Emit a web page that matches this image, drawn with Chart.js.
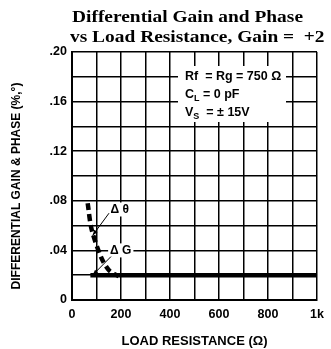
<!DOCTYPE html>
<html>
<head>
<meta charset="utf-8">
<script src="https://cdn.jsdelivr.net/npm/chart.js@4.4.0/dist/chart.umd.min.js"></script>
<style>
	html, body { margin: 0; padding: 0; background: #fff; }
	#wrap { width: 331px; height: 349px; position: relative; }
</style>
</head>
<body>
<div id="wrap"><canvas id="myChart"></canvas></div>
<script>
// load resistance (ohm) and differential gain / phase
const gainR = [75, 1000]
const gainVals = [0.02, 0.02]
const phaseR = [64, 80, 120, 151, 191]
const phaseVals = [0.078, 0.057, 0.034, 0.024, 0.019]

const xTicks = [0, 200, 400, 600, 800, 1000]
const xTickLabels = ['0', '200', '400', '600', '800', '1k']
const yTickLabels = { '0': '0', '0.04': '.04', '0.08': '.08', '0.12': '.12', '0.16': '.16', '0.2': '.20' }

const titleLines = ['Differential Gain and Phase', 'vs Load Resistance, Gain =  +2']
const noteLines = ['Rf  = Rg = 750 Ω', 'C_L = 0 pF', 'V_S  = ± 15V']

// label text position, arrow tail, arrow tip (data units)
const labelTheta = { text: 'Δ θ', at: [195, 0.073], from: [151, 0.070], to: [84, 0.052] }
const labelG = { text: 'Δ G', at: [199, 0.040], from: [159, 0.035], to: [84, 0.020] }

function pts(xs, ys) {
	return xs.map((x, i) => ({ x: x, y: ys[i] }))
}

const sans = '"Liberation Sans", Arial, sans-serif'
const serif = '"Liberation Serif", "DejaVu Serif", serif'

const drawExtras = {
	id: 'drawExtras',
	afterDraw(chart) {
		const c = chart.ctx
		const xs = chart.scales.x
		const ys = chart.scales.y
		c.save()

		// title, stretched so the first line spans like the original
		c.fillStyle = '#000'
		c.font = 'bold 17.5px ' + serif
		c.textBaseline = 'alphabetic'
		c.textAlign = 'left'
		const k = 231 / c.measureText(titleLines[0]).width
		c.save()
		c.scale(k, 1)
		c.fillText(titleLines[0], 72 / k, 22)
		c.fillText(titleLines[1], 70 / k, 42)
		c.restore()

		// note box
		const nf = 'bold 12.5px ' + sans
		const nx = 185
		const ny = [80, 98, 116]
		c.fillStyle = '#fff'
		c.fillRect(178, 66, 108, 56)
		c.fillStyle = '#000'
		noteLines.forEach((line, i) => {
			const m = line.match(/^(\w)_(\w)(.*)$/)
			c.font = nf
			if (m) {
				c.fillText(m[1], nx, ny[i])
				let w = c.measureText(m[1]).width
				c.font = 'bold 9px ' + sans
				c.fillText(m[2], nx + w, ny[i] + 3)
				w += c.measureText(m[2]).width
				c.font = nf
				c.fillText(m[3], nx + w, ny[i])
			} else {
				c.fillText(line, nx, ny[i])
			}
		})

		// delta labels and arrows
		;[labelTheta, labelG].forEach(l => {
			const tx = xs.getPixelForValue(l.at[0])
			const ty = ys.getPixelForValue(l.at[1])
			c.font = 'bold 12px ' + sans
			c.textAlign = 'center'
			c.textBaseline = 'middle'
			const w = c.measureText(l.text).width
			c.fillStyle = '#fff'
			c.fillRect(tx - w / 2 - 2, ty - 7, w + 4, 14)
			c.fillStyle = '#000'
			c.fillText(l.text, tx, ty)

			const x1 = xs.getPixelForValue(l.from[0])
			const y1 = ys.getPixelForValue(l.from[1])
			const x2 = xs.getPixelForValue(l.to[0])
			const y2 = ys.getPixelForValue(l.to[1])
			c.strokeStyle = '#000'
			c.lineWidth = 1
			c.beginPath()
			c.moveTo(x1, y1)
			c.lineTo(x2, y2)
			c.stroke()
			const a = Math.atan2(y2 - y1, x2 - x1)
			c.beginPath()
			c.moveTo(x2, y2)
			c.lineTo(x2 - 6 * Math.cos(a - 0.35), y2 - 6 * Math.sin(a - 0.35))
			c.lineTo(x2 - 6 * Math.cos(a + 0.35), y2 - 6 * Math.sin(a + 0.35))
			c.closePath()
			c.fill()
		})

		// y axis title, set a little below the plot centre as in the original
		c.font = 'bold 12px ' + sans
		c.textAlign = 'center'
		c.textBaseline = 'middle'
		c.translate(17, 186)
		c.rotate(-Math.PI / 2)
		c.fillText('DIFFERENTIAL GAIN & PHASE (%,°)', 0, 0)
		c.restore()
	}
}

const tickFont = { family: sans, weight: 'bold', size: 12.5 }

const ctx = document.getElementById('myChart')
var chart = new Chart(ctx, {
	type: 'scatter',
	data: {
		datasets: [{
			label: 'ΔG',
			data: pts(gainR, gainVals),
			showLine: true,
			borderColor: '#000',
			borderWidth: 4.5,
			pointRadius: 0,
			borderCapStyle: 'butt'
		}, {
			label: 'Δθ',
			data: pts(phaseR, phaseVals),
			showLine: true,
			borderColor: '#000',
			borderWidth: 4.5,
			borderDash: [7, 4],
			pointRadius: 0,
			tension: 0.3
		}]
	},
	options: {
		responsive: true,
		maintainAspectRatio: false,
		animation: false,
		layout: { padding: { top: 52, right: 8, left: 10, bottom: 0 } },
		plugins: {
			legend: { display: false },
			tooltip: { enabled: false }
		},
		scales: {
			x: {
				type: 'linear',
				min: 0,
				max: 1000,
				afterFit(s) { s.height = 49 },
				afterBuildTicks(s) {
					s.ticks = []
					for (let v = 0; v <= 1000; v += 100) s.ticks.push({ value: v })
				},
				grid: { color: '#000', lineWidth: 1.5, drawTicks: false },
				border: { color: '#000', width: 2 },
				ticks: {
					color: '#000',
					padding: 7,
					maxRotation: 0,
					autoSkip: false,
					font: tickFont,
					callback: v => {
						const i = xTicks.indexOf(v)
						return i >= 0 ? xTickLabels[i] : ''
					}
				},
				title: {
					display: true,
					text: 'LOAD RESISTANCE (Ω)',
					color: '#000',
					font: { family: sans, weight: 'bold', size: 13 },
					padding: { top: 10, bottom: 0 }
				}
			},
			y: {
				min: 0,
				max: 0.2,
				afterFit(s) { s.width = 62 },
				ticks: {
					stepSize: 0.02,
					color: '#000',
					padding: 5,
					autoSkip: false,
					font: tickFont,
					callback: v => {
						const k = String(Math.round(v * 100) / 100)
						return yTickLabels[k] !== undefined ? yTickLabels[k] : ''
					}
				},
				grid: { color: '#000', lineWidth: 1.5, drawTicks: false },
				border: { color: '#000', width: 2 }
			}
		}
	},
	plugins: [drawExtras]
})
</script>
</body>
</html>
